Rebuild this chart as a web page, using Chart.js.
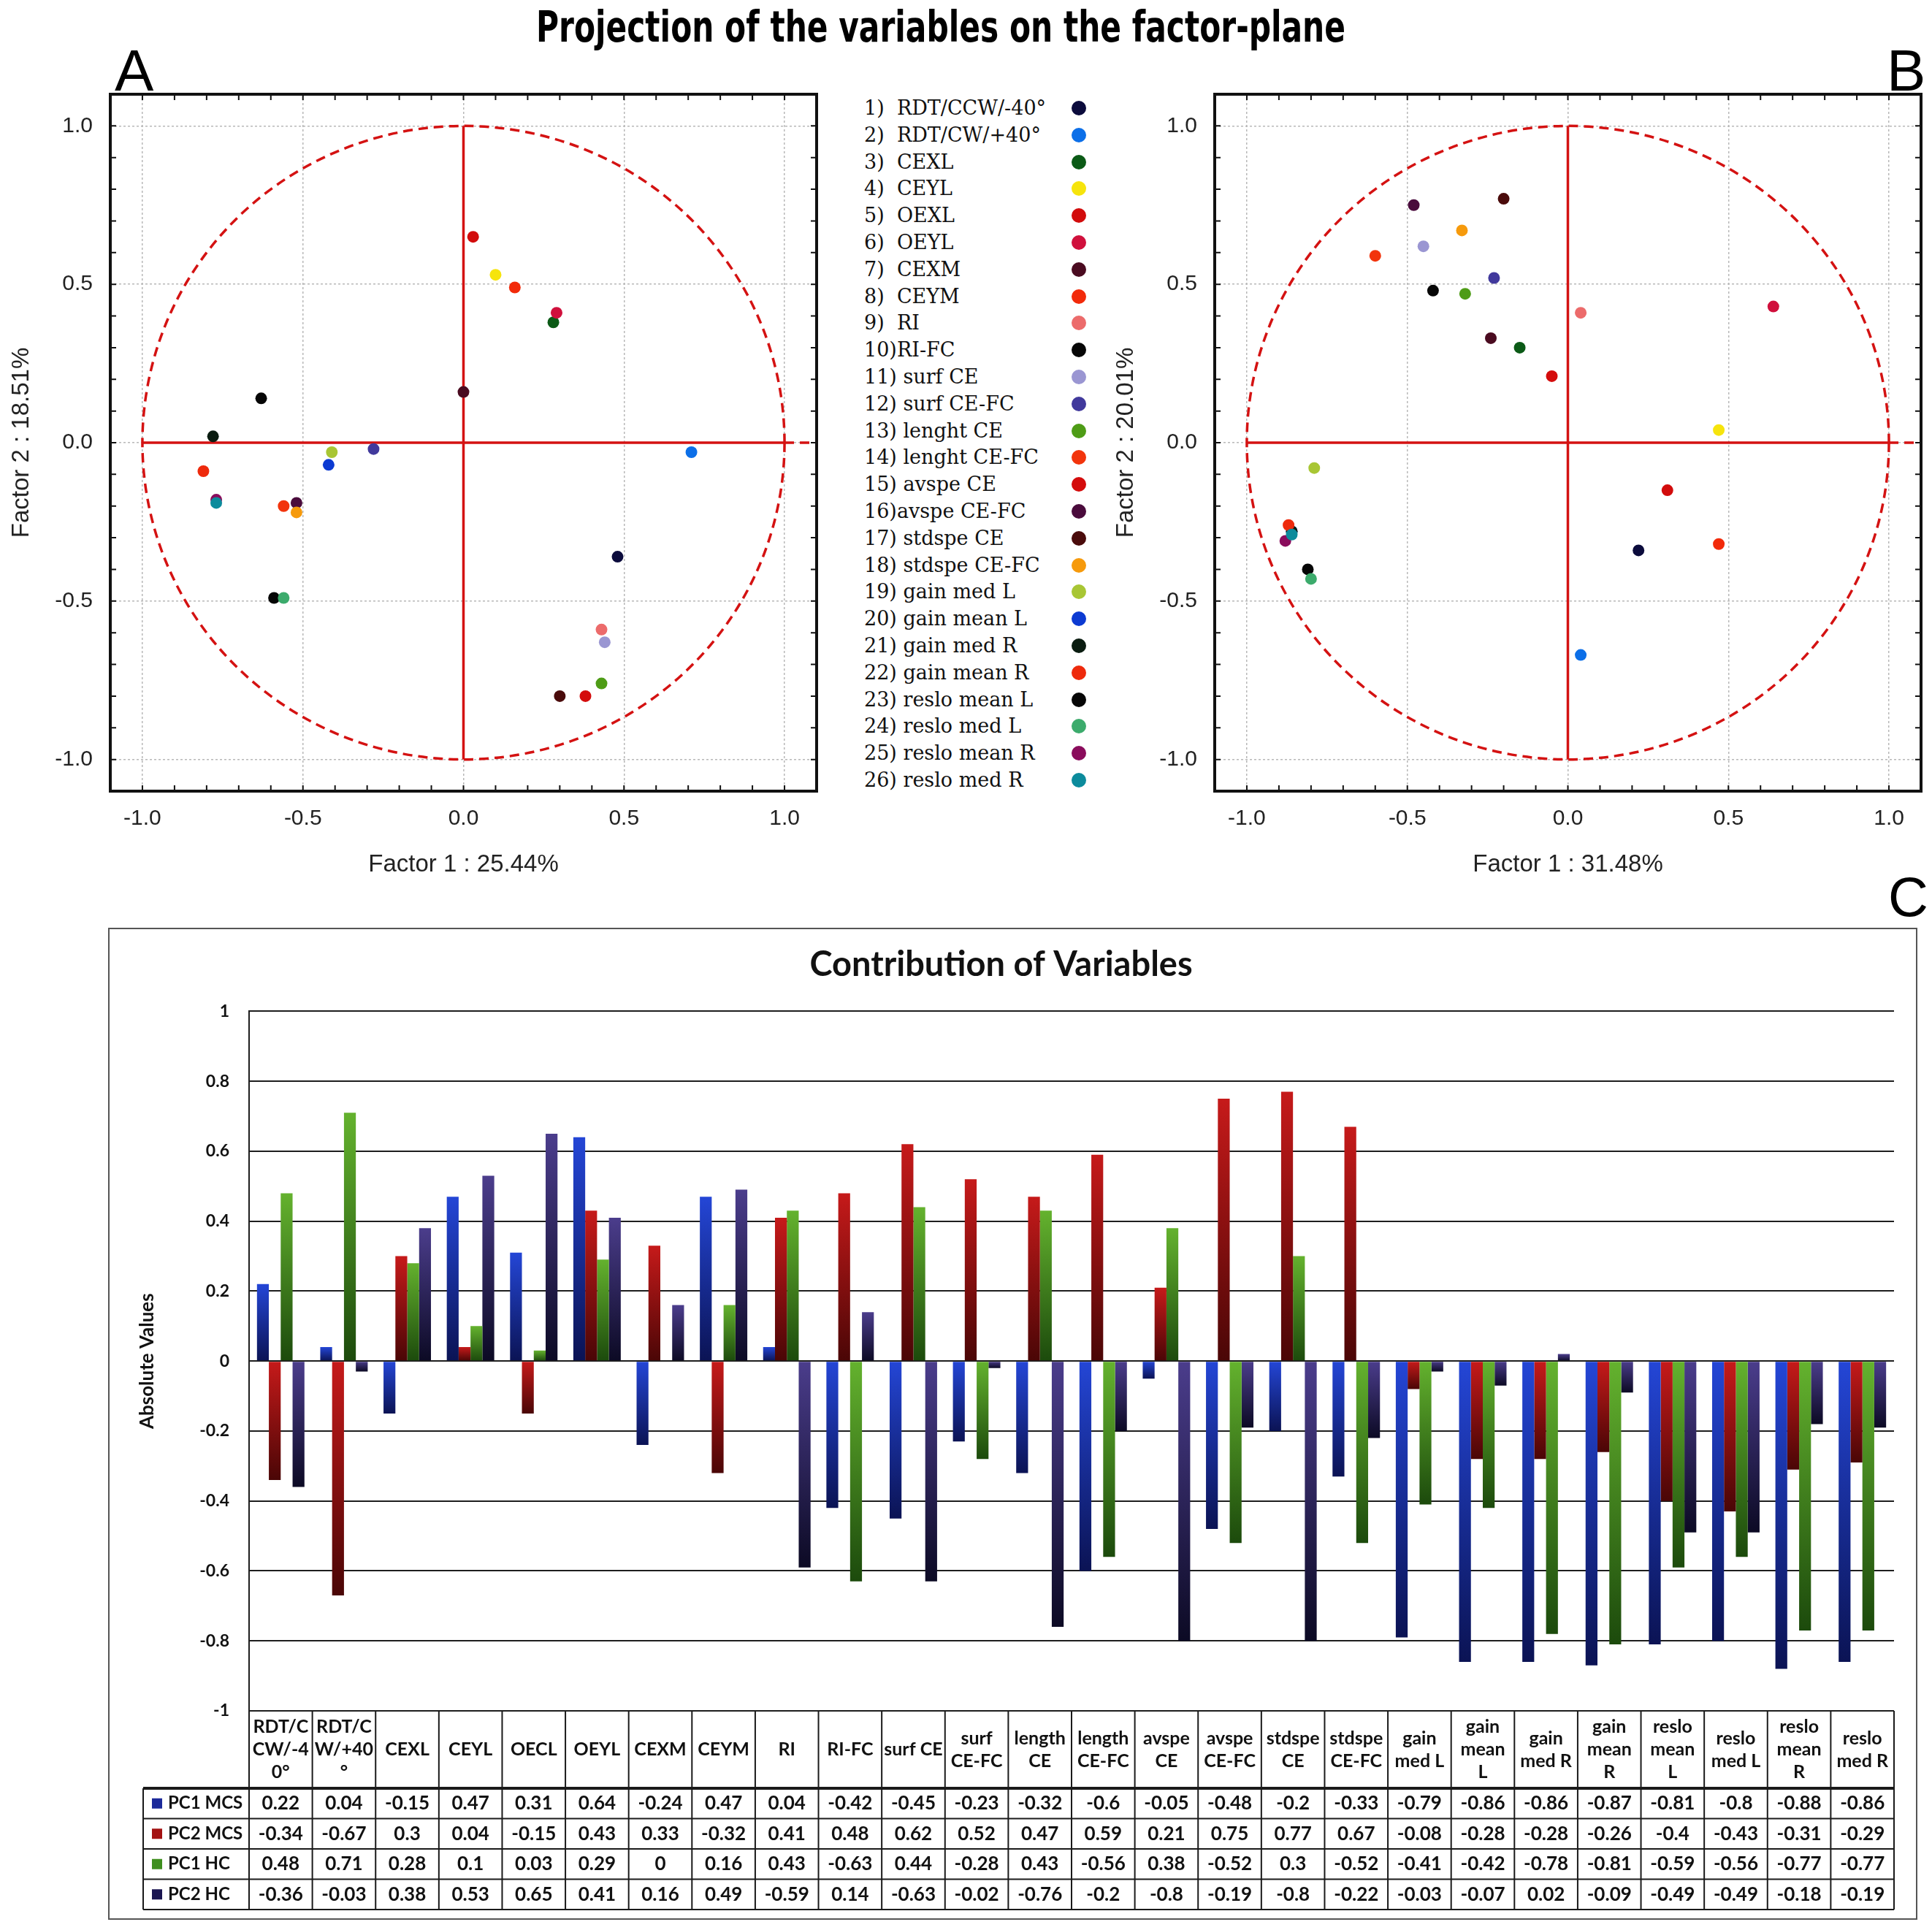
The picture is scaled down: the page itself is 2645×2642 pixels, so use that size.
<!DOCTYPE html>
<html>
<head>
<meta charset="utf-8">
<script src="https://cdn.jsdelivr.net/npm/chart.js@4.4.1/dist/chart.umd.min.js"></script>
<style>
    html, body { margin: 0; padding: 0; background: white; }
    #page { position: relative; width: 2645px; height: 2642px; background: white; overflow: hidden; }
    canvas { position: absolute; }
    .panelLetter { position: absolute; font-family: "Liberation Sans", Arial, sans-serif; font-size: 80px; line-height: 1; color: black; }
    #mainTitle { position: absolute; top: 8px; left: 1288px; white-space: nowrap; font-family: "DejaVu Sans", sans-serif; font-weight: bold; font-size: 58px; line-height: 1; color: black; transform-origin: center; }
    #legend { position: absolute; left: 1183px; top: 130px; font-family: "DejaVu Serif", serif; font-size: 27px; color: #111; }
    .row { position: relative; height: 36.8px; line-height: 36.8px; white-space: pre; }
    .dot { position: absolute; left: 284px; top: 8px; width: 20px; height: 20px; border-radius: 50%; }
    #boxC { position: absolute; left: 148px; top: 1270px; width: 2477px; height: 1358px; border: 2px solid #555; box-sizing: border-box; pointer-events: none; }
</style>
</head>
<body>
<div id="page">
    <div id="mainTitle">Projection of the variables on the factor-plane</div>
    <div class="panelLetter" style="left:157px;top:57px">A</div>
    <div class="panelLetter" style="left:2583px;top:57px">B</div>
    <div class="panelLetter" style="left:2585px;top:1190px;font-size:76px">C</div>
    <canvas id="factorHC" width="1150" height="1130" style="left:0px;top:100px;width:1150px;height:1130px"></canvas>
    <canvas id="factorMCS" width="1133" height="1130" style="left:1512px;top:100px;width:1133px;height:1130px"></canvas>
    <div id="legend"></div>
    <canvas id="contribution" width="2477" height="1358" style="left:148px;top:1270px;width:2477px;height:1358px"></canvas>
    <div id="boxC"></div>
</div>
<script>
// variables, as listed in the legend of the factor planes
const legendNames = ["1)  RDT/CCW/-40°", "2)  RDT/CW/+40°", "3)  CEXL", "4)  CEYL", "5)  OEXL", "6)  OEYL", "7)  CEXM", "8)  CEYM", "9)  RI",
    "10)RI-FC", "11) surf CE", "12) surf CE-FC", "13) lenght CE", "14) lenght CE-FC", "15) avspe CE", "16)avspe CE-FC", "17) stdspe CE",
    "18) stdspe CE-FC", "19) gain med L", "20) gain mean L", "21) gain med R", "22) gain mean R", "23) reslo mean L", "24) reslo med L",
    "25) reslo mean R", "26) reslo med R"];
const pointColors = ["#0b0b3c", "#0c6fe8", "#0b5a16", "#f6e40c", "#d20c0c", "#d0103c", "#4a0b20", "#f22a0a", "#ec6b6b", "#060606",
    "#9a96d2", "#41399c", "#4e9c16", "#f2340c", "#d40c0c", "#4a0b3c", "#4a0b0b", "#f69a0c", "#a8c634", "#0c3ad2", "#0a1c10",
    "#ee2a0c", "#060606", "#3cab6c", "#8a0c5c", "#0c8b9c"];

// table header of chart C
const tableLabels = [["RDT/C", "CW/-4", "0°"], ["RDT/C", "W/+40", "°"], ["CEXL"], ["CEYL"], ["OECL"], ["OEYL"], ["CEXM"], ["CEYM"], ["RI"],
    ["RI-FC"], ["surf CE"], ["surf", "CE-FC"], ["length", "CE"], ["length", "CE-FC"], ["avspe", "CE"], ["avspe", "CE-FC"], ["stdspe", "CE"],
    ["stdspe", "CE-FC"], ["gain", "med L"], ["gain", "mean", "L"], ["gain", "med R"], ["gain", "mean", "R"], ["reslo", "mean", "L"],
    ["reslo", "med L"], ["reslo", "mean", "R"], ["reslo", "med R"]];

const pc1MCS = [0.22, 0.04, -0.15, 0.47, 0.31, 0.64, -0.24, 0.47, 0.04, -0.42, -0.45, -0.23, -0.32, -0.6, -0.05, -0.48, -0.2, -0.33, -0.79, -0.86, -0.86, -0.87, -0.81, -0.8, -0.88, -0.86];
const pc2MCS = [-0.34, -0.67, 0.3, 0.04, -0.15, 0.43, 0.33, -0.32, 0.41, 0.48, 0.62, 0.52, 0.47, 0.59, 0.21, 0.75, 0.77, 0.67, -0.08, -0.28, -0.28, -0.26, -0.4, -0.43, -0.31, -0.29];
const pc1HC = [0.48, 0.71, 0.28, 0.1, 0.03, 0.29, 0, 0.16, 0.43, -0.63, 0.44, -0.28, 0.43, -0.56, 0.38, -0.52, 0.3, -0.52, -0.41, -0.42, -0.78, -0.81, -0.59, -0.56, -0.77, -0.77];
const pc2HC = [-0.36, -0.03, 0.38, 0.53, 0.65, 0.41, 0.16, 0.49, -0.59, 0.14, -0.63, -0.02, -0.76, -0.2, -0.8, -0.19, -0.8, -0.22, -0.03, -0.07, 0.02, -0.09, -0.49, -0.49, -0.18, -0.19];

const seriesNames = ["PC1 MCS", "PC2 MCS", "PC1 HC", "PC2 HC"];
const keyColors = ["#1c2a9a", "#a31212", "#3f8f1f", "#1a1550"];
const gradTop = ["#2446d6", "#c61a1a", "#64b22e", "#4b3d8c"];
const gradBottom = ["#0b1354", "#4a0606", "#1c4a0c", "#0c0a24"];

const factorTicks = [-1, -0.5, 0, 0.5, 1];

// legend in the middle
(function () {
    let legend = document.getElementById("legend");
    for (let i = 0; i < legendNames.length; i++) {
        let row = document.createElement("div");
        row.className = "row";
        row.textContent = legendNames[i];
        let dot = document.createElement("span");
        dot.className = "dot";
        dot.style.background = pointColors[i];
        row.appendChild(dot);
        legend.appendChild(row);
    }
    let title = document.getElementById("mainTitle");
    let w = title.getBoundingClientRect().width;
    title.style.transform = `translateX(-50%) scaleX(${1108 / w})`;
})();

const circlePlugin = {
    id: "unitCircle",
    beforeDatasetsDraw: function (chart) {
        const ctx = chart.ctx, area = chart.chartArea, x = chart.scales.x, y = chart.scales.y;
        const cx = x.getPixelForValue(0), cy = y.getPixelForValue(0);
        const rx = x.getPixelForValue(1) - cx, ry = cy - y.getPixelForValue(1);
        ctx.save();
        ctx.strokeStyle = "#d41212";
        ctx.lineWidth = 3.5;
        ctx.beginPath();
        ctx.moveTo(x.getPixelForValue(-1), cy);
        ctx.lineTo(x.getPixelForValue(1), cy);
        ctx.moveTo(cx, y.getPixelForValue(1));
        ctx.lineTo(cx, y.getPixelForValue(-1));
        ctx.stroke();
        ctx.setLineDash([13, 8]);
        ctx.beginPath();
        ctx.ellipse(cx, cy, rx, ry, 0, 0, 2 * Math.PI);
        ctx.stroke();
        ctx.beginPath();
        ctx.moveTo(x.getPixelForValue(1), cy);
        ctx.lineTo(area.right, cy);
        ctx.stroke();
        ctx.restore();
    },
    afterDraw: function (chart) {
        const ctx = chart.ctx, area = chart.chartArea, x = chart.scales.x, y = chart.scales.y;
        ctx.save();
        ctx.strokeStyle = "#111";
        ctx.lineWidth = 2;
        ctx.beginPath();
        // small inner ticks every 0.1
        for (let k = -10; k <= 10; k++) {
            let px = x.getPixelForValue(k / 10), py = y.getPixelForValue(k / 10);
            ctx.moveTo(px, area.top); ctx.lineTo(px, area.top + 8);
            ctx.moveTo(px, area.bottom); ctx.lineTo(px, area.bottom - 8);
            ctx.moveTo(area.left, py); ctx.lineTo(area.left + 8, py);
            ctx.moveTo(area.right, py); ctx.lineTo(area.right - 8, py);
        }
        ctx.stroke();
        ctx.lineWidth = 4;
        ctx.strokeRect(area.left, area.top, area.right - area.left, area.bottom - area.top);
        ctx.restore();
    }
};

function factorPlane(id, xValues, yValues, xTitle, yTitle, rightPad) {
    let points = xValues.map((v, i) => ({x: v, y: yValues[i]}));
    let axisFont = {family: "Liberation Sans", size: 30};
    new Chart(id, {
        type: "scatter",
        data: {
            datasets: [{
                data: points,
                pointBackgroundColor: pointColors,
                pointBorderColor: pointColors,
                pointBorderWidth: 0,
                pointRadius: 8,
                pointHoverRadius: 8
            }]
        },
        options: {
            responsive: false,
            animation: false,
            devicePixelRatio: 1,
            layout: {
                padding: {top: 29, right: rightPad, left: 0, bottom: 0}
            },
            plugins: {
                legend: {display: false},
                tooltip: {enabled: false}
            },
            scales: {
                x: {
                    min: -1.1,
                    max: 1.1,
                    afterBuildTicks: (scale) => { scale.ticks = factorTicks.map(v => ({value: v})); },
                    afterFit: (scale) => { scale.height = 147; scale.paddingLeft = 0; scale.paddingRight = 0; },
                    grid: {color: "#b8b8b8", lineWidth: 1.5, drawTicks: false},
                    border: {display: false, dash: [3, 3]},
                    ticks: {
                        color: "#222",
                        padding: 20,
                        font: axisFont,
                        callback: (v) => Number(v).toFixed(1)
                    },
                    title: {
                        display: true,
                        text: xTitle,
                        color: "#222",
                        font: {family: "Liberation Sans", size: 33},
                        padding: {bottom: 26}
                    }
                },
                y: {
                    min: -1.1,
                    max: 1.1,
                    afterBuildTicks: (scale) => { scale.ticks = factorTicks.map(v => ({value: v})); },
                    afterFit: (scale) => { scale.width = 151; scale.paddingTop = 0; scale.paddingBottom = 0; },
                    grid: {color: "#b8b8b8", lineWidth: 1.5, drawTicks: false},
                    border: {display: false, dash: [3, 3]},
                    ticks: {
                        color: "#222",
                        padding: 24,
                        font: axisFont,
                        callback: (v) => Number(v).toFixed(1)
                    },
                    title: {
                        display: true,
                        text: yTitle,
                        color: "#222",
                        font: {family: "Liberation Sans", size: 33},
                        padding: {top: 10}
                    }
                }
            }
        },
        plugins: [circlePlugin]
    });
}

function barGradient(context, s) {
    const chart = context.chart, area = chart.chartArea;
    if (!area) return gradTop[s];
    const y = chart.scales.y;
    const y0 = y.getPixelForValue(0), y1 = y.getPixelForValue(context.raw);
    if (Math.abs(y0 - y1) < 1) return gradTop[s];
    const g = chart.ctx.createLinearGradient(0, Math.min(y0, y1), 0, Math.max(y0, y1));
    g.addColorStop(0, gradTop[s]);
    g.addColorStop(1, gradBottom[s]);
    return g;
}

const tablePlugin = {
    id: "dataTable",
    afterDraw: function (chart) {
        const ctx = chart.ctx, area = chart.chartArea, x = chart.scales.x;
        const series = [pc1MCS, pc2MCS, pc1HC, pc2HC];
        const colW = x.getPixelForValue(1) - x.getPixelForValue(0);
        const top = area.bottom, headBottom = top + 106, rowH = 41.5;
        const bottom = headBottom + rowH * series.length;
        const keyLeft = 48;
        ctx.save();
        ctx.strokeStyle = "#1a1a1a";
        ctx.lineWidth = 2;
        ctx.beginPath();
        ctx.moveTo(area.left, top);
        ctx.lineTo(area.left, bottom);
        for (let i = 0; i < tableLabels.length; i++) {
            let xx = x.getPixelForValue(i) + colW / 2;
            ctx.moveTo(xx, top);
            ctx.lineTo(xx, bottom);
        }
        ctx.moveTo(keyLeft, headBottom);
        ctx.lineTo(keyLeft, bottom);
        for (let r = 1; r <= series.length; r++) {
            ctx.moveTo(keyLeft, headBottom + rowH * r);
            ctx.lineTo(area.right, headBottom + rowH * r);
        }
        ctx.stroke();
        ctx.lineWidth = 4;
        ctx.beginPath();
        ctx.moveTo(keyLeft, headBottom);
        ctx.lineTo(area.right, headBottom);
        ctx.stroke();

        ctx.fillStyle = "#111";
        ctx.textAlign = "center";
        ctx.textBaseline = "middle";
        ctx.font = "bold 25px Lato";
        for (let i = 0; i < tableLabels.length; i++) {
            let lines = tableLabels[i];
            let y0 = top + 53 - (lines.length - 1) * 31 / 2;
            for (let l = 0; l < lines.length; l++) {
                ctx.fillText(lines[l], x.getPixelForValue(i), y0 + l * 31);
            }
        }
        ctx.font = "bold 26px Lato";
        for (let r = 0; r < series.length; r++) {
            let yc = headBottom + rowH * (r + 0.5);
            for (let i = 0; i < series[r].length; i++) {
                ctx.fillText(String(series[r][i]), x.getPixelForValue(i), yc);
            }
        }
        ctx.textAlign = "left";
        ctx.font = "bold 24px Lato";
        for (let r = 0; r < series.length; r++) {
            let yc = headBottom + rowH * (r + 0.5);
            ctx.fillStyle = keyColors[r];
            ctx.fillRect(60, yc - 7, 14, 14);
            ctx.fillStyle = "#111";
            ctx.fillText(seriesNames[r], 82, yc);
        }
        ctx.restore();
    }
};

function contributionChart() {
    const series = [pc1MCS, pc2MCS, pc1HC, pc2HC];
    new Chart("contribution", {
        type: "bar",
        data: {
            labels: tableLabels,
            datasets: series.map((values, s) => ({
                label: seriesNames[s],
                data: values,
                backgroundColor: (context) => barGradient(context, s),
                borderWidth: 0,
                categoryPercentage: 0.75,
                barPercentage: 1.0
            }))
        },
        options: {
            responsive: false,
            animation: false,
            devicePixelRatio: 1,
            layout: {
                padding: {top: 0, right: 32, left: 0, bottom: 0}
            },
            plugins: {
                legend: {display: false},
                tooltip: {enabled: false},
                title: {
                    display: true,
                    text: "Contribution of Variables",
                    color: "#111",
                    font: {family: "Lato", size: 47, weight: "bold"},
                    padding: {top: 23, bottom: 35}
                }
            },
            scales: {
                x: {
                    afterFit: (scale) => { scale.height = 286; },
                    grid: {display: false},
                    border: {display: false},
                    ticks: {display: false}
                },
                y: {
                    min: -1,
                    max: 1,
                    afterFit: (scale) => { scale.width = 193; },
                    grid: {color: "#1e1e1e", lineWidth: 2, drawTicks: false},
                    border: {display: true, color: "#1e1e1e", width: 2},
                    ticks: {
                        stepSize: 0.2,
                        color: "#111",
                        padding: 27,
                        font: {family: "Lato", size: 23, weight: "bold"},
                        callback: (v) => Math.round(v * 10) / 10
                    },
                    title: {
                        display: true,
                        text: "Absolute Values",
                        color: "#111",
                        font: {family: "Lato", size: 26, weight: "bold"},
                        padding: {top: 38}
                    }
                }
            }
        },
        plugins: [tablePlugin]
    });
}

factorPlane("factorHC", pc1HC, pc2HC, "Factor 1 : 25.44%", "Factor 2 : 18.51%", 32);
factorPlane("factorMCS", pc1MCS, pc2MCS, "Factor 1 : 31.48%", "Factor 2 : 20.01%", 15);
contributionChart();
</script>
</body>
</html>
